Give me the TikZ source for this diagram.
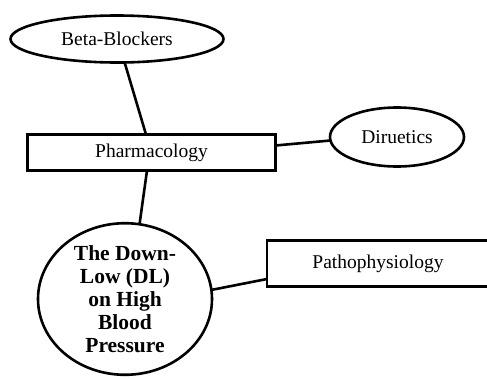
\documentclass[tikz,border=0pt]{standalone}
\usepackage{fontspec}
\setmainfont{Liberation Serif}
\usetikzlibrary{shapes.geometric,calc}
\begin{document}
\begin{tikzpicture}[x=1pt,y=-1pt,
  every node/.style={line width=2.6pt, inner sep=0pt, outer sep=0pt},
  conn/.style={line width=2.6pt},
  lbl/.style={font=\fontsize{19.5}{22}\selectfont}]
\useasboundingbox (0,0) rectangle (487,378);
\node[draw, ellipse, minimum width=213, minimum height=47, lbl] (bb) at (117,39) {Beta-Blockers};
\node[draw, rectangle, minimum width=248, minimum height=36, lbl] (ph) at (151.5,152.5) {Pharmacology};
\node[draw, ellipse, minimum width=134, minimum height=59, lbl] (di) at (397,137) {Diruetics};
\node[draw, rectangle, minimum width=222, minimum height=46, lbl] (pa) at (378,263.5) {Pathophysiology};
\node[draw, ellipse, minimum width=174, minimum height=150, align=center,
  font=\bfseries\fontsize{21.5}{23}\selectfont] (dl) at (125,299) {The Down-\\Low (DL)\\on High\\Blood\\Pressure};
\draw[conn] (bb.-72) -- ($(ph.north)+(-5.5,0)$);
\draw[conn] ($(ph.south)+(-4.5,0)$) -- (dl.79);
\draw[conn] ($(ph.east)+(0,-7)$) -- (di.183);
\draw[conn] (dl.6) -- ($(pa.west)+(0,15.5)$);
\end{tikzpicture}
\end{document}
